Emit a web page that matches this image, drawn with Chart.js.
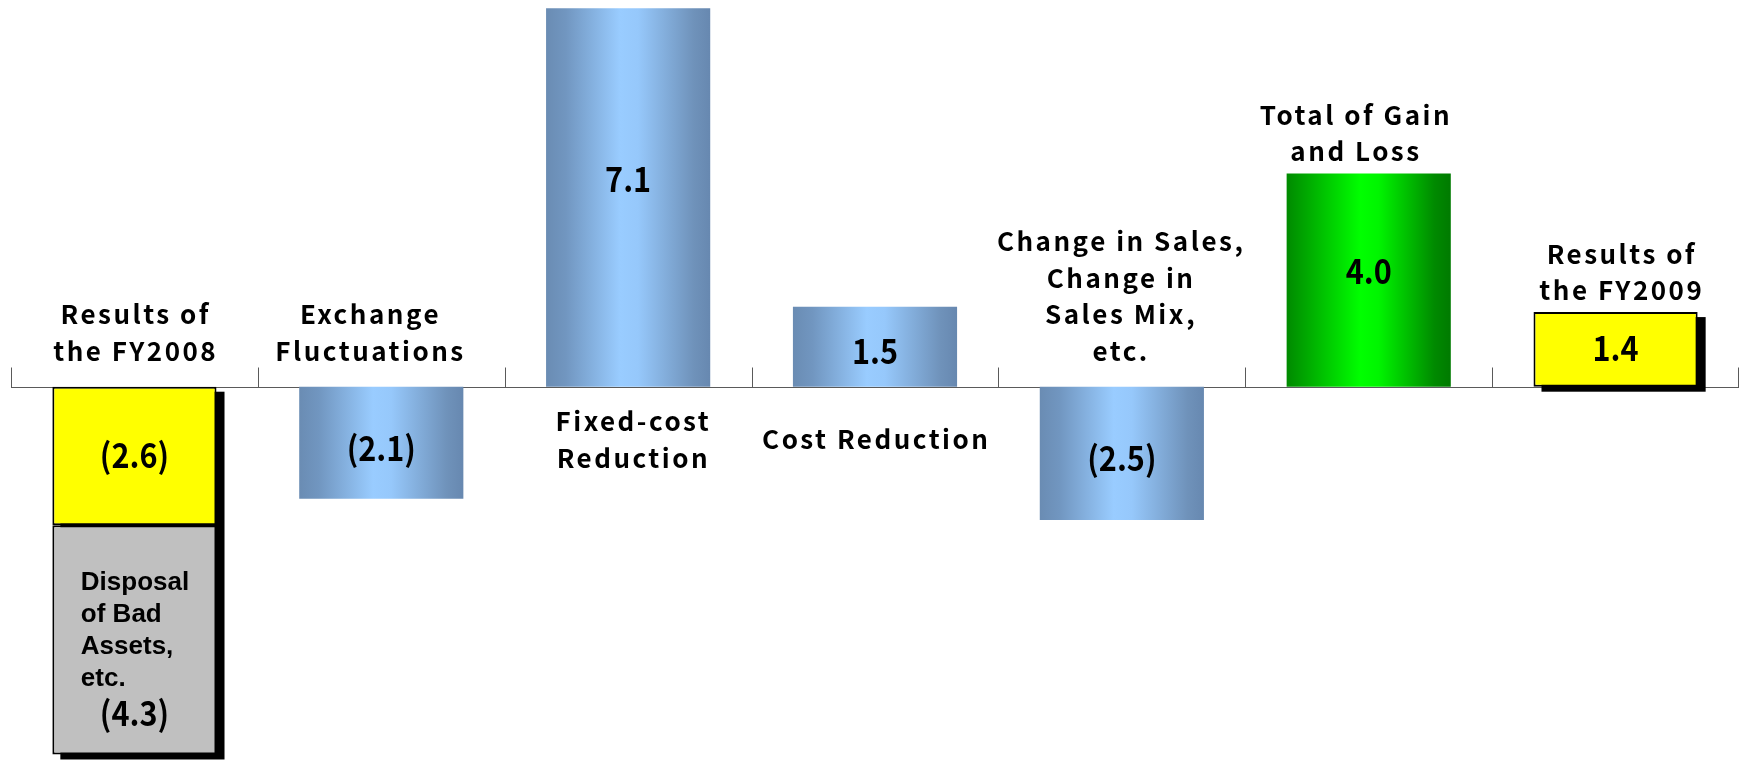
<!DOCTYPE html>
<html>
<head>
<meta charset="utf-8">
<script src="https://cdn.jsdelivr.net/npm/chart.js@4"></script>
<style>
  html, body { margin: 0; padding: 0; background: #fff; }
  #wrap { position: relative; width: 1739px; height: 762px; }
</style>
</head>
<body>
<div id="wrap"><canvas id="chart"></canvas></div>
<script>
// categories (multi-line labels as in the slide)
const categories = [
  ['Results of', 'the FY2008'],
  ['Exchange', 'Fluctuations'],
  ['Fixed-cost', 'Reduction'],
  ['Cost Reduction'],
  ['Change in Sales,', 'Change in', 'Sales Mix,', 'etc.'],
  ['Total of Gain', 'and Loss'],
  ['Results of', 'the FY2009']
];
// operating result and its factors
const mainValues = [-2.6, -2.1, 7.1, 1.5, -2.5, 4.0, 1.4];
// extra loss stacked under FY2008
const disposalValues = [-4.3, null, null, null, null, null, null];
const disposalLabel = ['Disposal', 'of Bad', 'Assets,', 'etc.'];

// styling
const kinds = ['result', 'factor', 'factor', 'factor', 'factor', 'total', 'result'];
const labelBelow = [false, false, true, true, false, false, false];
const labelDx = [0, -12, 4, 0, -2, -14, 5];
const valueShift = [0, 6, -17, 5, 6, -8, 0];
const BAR_PCT = 0.665;
const LABEL_FONT = 'bold 26px "Noto Sans CJK JP"';
const VALUE_FONT = 'bold 34px "Noto Sans CJK JP"';

const blueStops = [[0, '#6a8cb3'], [0.12, '#7196c0'], [0.45, '#99ccff'], [0.56, '#96c8fb'], [0.9, '#6f92ba'], [1, '#6788b0']];
const greenStops = [[0, '#008a00'], [0.12, '#00a800'], [0.45, '#00ff00'], [0.56, '#00f500'], [0.9, '#008a00'], [1, '#007a00']];

function barGradient(ctx, stops) {
  const chart = ctx.chart;
  const xs = chart.scales.x;
  if (!xs || ctx.dataIndex === undefined) return stops[2][1];
  const cx = xs.getPixelForValue(ctx.dataIndex);
  const w = xs.width / categories.length * BAR_PCT;
  const g = chart.ctx.createLinearGradient(cx - w / 2, 0, cx + w / 2, 0);
  stops.forEach(s => g.addColorStop(s[0], s[1]));
  return g;
}

function mainColor(ctx) {
  const k = kinds[ctx.dataIndex];
  if (k === 'result') return '#ffff00';
  if (k === 'total') return barGradient(ctx, greenStops);
  return barGradient(ctx, blueStops);
}

function fmt(v) {
  return v < 0 ? '(' + Math.abs(v).toFixed(1) + ')' : v.toFixed(1);
}

function valueText(c, t, x, y) {
  c.save();
  c.translate(x, y);
  c.scale(0.9, 1);
  c.fillText(t, 0, 0);
  c.restore();
}

function hasBar(e) {
  return e && isFinite(e.y) && isFinite(e.base);
}

const shadowAxisPlugin = {
  id: 'shadowAxis',
  beforeDatasetsDraw(chart) {
    const c = chart.ctx;
    const xs = chart.scales.x, ys = chart.scales.y;
    const zero = Math.round(ys.getPixelForValue(0)) + 0.5;
    c.save();
    // axis line and boundary ticks
    c.strokeStyle = '#5a5a5a';
    c.lineWidth = 1;
    c.beginPath();
    c.moveTo(xs.left, zero);
    c.lineTo(xs.right, zero);
    const step = xs.width / categories.length;
    for (let i = 0; i <= categories.length; i++) {
      const x = Math.min(Math.round(xs.left + i * step) + 0.5, chart.width - 0.5);
      c.moveTo(x, zero - 20);
      c.lineTo(x, zero);
    }
    c.stroke();
    // drop shadows of the result boxes
    const m0 = chart.getDatasetMeta(0), m1 = chart.getDatasetMeta(1);
    c.fillStyle = '#000';
    kinds.forEach((k, i) => {
      if (k !== 'result') return;
      const els = [m0.data[i], m1.data[i]].filter(hasBar);
      let top = Infinity, bot = -Infinity, left = 0, w = 0;
      els.forEach(e => {
        top = Math.min(top, e.y, e.base);
        bot = Math.max(bot, e.y, e.base);
        left = e.x - e.width / 2; w = e.width;
      });
      c.fillRect(left + 8, top + 5, w, bot - top);
    });
    c.restore();
  },
  afterDatasetsDraw(chart) {
    const c = chart.ctx;
    const ys = chart.scales.y;
    const zero = ys.getPixelForValue(0);
    const m0 = chart.getDatasetMeta(0), m1 = chart.getDatasetMeta(1);
    c.save();
    c.fillStyle = '#000';
    c.textAlign = 'center';
    c.textBaseline = 'alphabetic';
    // value labels
    c.font = VALUE_FONT;
    mainValues.forEach((v, i) => {
      const e = m0.data[i];
      const cy = (e.y + e.base) / 2 + valueShift[i];
      valueText(c, fmt(v), e.x, cy + 12);
    });
    // disposal box text
    const d = m1.data[0];
    const dTop = Math.min(d.y, d.base), dBot = Math.max(d.y, d.base);
    c.font = 'bold 26px "Liberation Sans", Arial, sans-serif';
    c.textAlign = 'left';
    disposalLabel.forEach((t, j) => {
      c.fillText(t, d.x - d.width / 2 + 28.5, dTop + 65 + j * 32);
    });
    c.font = VALUE_FONT;
    c.textAlign = 'center';
    valueText(c, fmt(disposalValues[0]), d.x, dBot - 28);
    // category labels
    c.font = LABEL_FONT;
    c.letterSpacing = '2.5px';
    categories.forEach((lines, i) => {
      const e = m0.data[i];
      const x = e.x + 1.25 + labelDx[i];
      const n = lines.length;
      if (labelBelow[i]) {
        const first = zero + 53 - (n - 1) * 18 + 9.5;
        lines.forEach((t, j) => c.fillText(t, x, first + j * 36.5));
      } else {
        const v = mainValues[i];
        const last = v < 0 ? zero - 26 : Math.min(e.y, e.base) - 12;
        lines.forEach((t, j) => c.fillText(t, x, last - (n - 1 - j) * 36.5));
      }
    });
    c.restore();
  }
};

const ctx = document.getElementById('chart').getContext('2d');
new Chart(ctx, {
  type: 'bar',
  data: {
    labels: categories,
    datasets: [{
      label: 'Operating result',
      data: mainValues,
      backgroundColor: mainColor,
      borderColor: '#000',
      borderWidth: kinds.map(k => k === 'result' ? 2 : 0),
      borderSkipped: false
    }, {
      label: 'Disposal of Bad Assets, etc.',
      data: disposalValues,
      backgroundColor: '#c0c0c0',
      borderColor: '#000',
      borderWidth: 2,
      borderSkipped: false
    }]
  },
  options: {
    responsive: true,
    maintainAspectRatio: false,
    animation: false,
    layout: { padding: { left: 11, right: 0, top: 0, bottom: 0 } },
    datasets: { bar: { barPercentage: BAR_PCT, categoryPercentage: 1 } },
    plugins: { legend: { display: false }, tooltip: { enabled: false } },
    scales: {
      x: { stacked: true, display: false },
      y: { stacked: true, display: false, min: -7.041, max: 7.255 }
    }
  },
  plugins: [shadowAxisPlugin]
});
</script>
</body>
</html>
